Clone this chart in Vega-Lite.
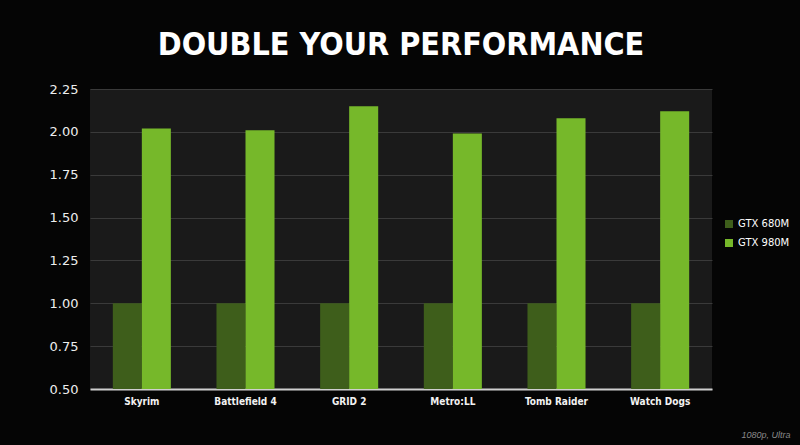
{
  "$schema": "https://vega.github.io/schema/vega-lite/v6.json",
  "description": "GTX 680M vs GTX 980M relative performance",
  "autosize": "none",
  "width": 622,
  "height": 300,
  "padding": {"left": 90, "top": 89, "right": 88, "bottom": 56},
  "background": "#050505",
  "view": {"fill": "#1a1a1a", "stroke": null},
  "title": {
    "text": "DOUBLE YOUR PERFORMANCE",
    "font": "DejaVu Sans Condensed, Liberation Sans Narrow, Liberation Sans",
    "fontSize": 32,
    "fontWeight": "bold",
    "color": "white",
    "anchor": "middle",
    "offset": 21
  },
  "data": {
    "values": [
      {"game": "Skyrim", "gpu": "GTX 680M", "perf": 1.0},
      {"game": "Skyrim", "gpu": "GTX 980M", "perf": 2.02},
      {"game": "Battlefield 4", "gpu": "GTX 680M", "perf": 1.0},
      {"game": "Battlefield 4", "gpu": "GTX 980M", "perf": 2.01},
      {"game": "GRID 2", "gpu": "GTX 680M", "perf": 1.0},
      {"game": "GRID 2", "gpu": "GTX 980M", "perf": 2.15},
      {"game": "Metro:LL", "gpu": "GTX 680M", "perf": 1.0},
      {"game": "Metro:LL", "gpu": "GTX 980M", "perf": 1.99},
      {"game": "Tomb Raider", "gpu": "GTX 680M", "perf": 1.0},
      {"game": "Tomb Raider", "gpu": "GTX 980M", "perf": 2.08},
      {"game": "Watch Dogs", "gpu": "GTX 680M", "perf": 1.0},
      {"game": "Watch Dogs", "gpu": "GTX 980M", "perf": 2.12}
    ]
  },
  "mark": {"type": "bar", "clip": true},
  "encoding": {
    "x": {
      "field": "game",
      "type": "nominal",
      "sort": null,
      "scale": {"paddingInner": 0.44, "paddingOuter": 0.22},
      "axis": {
        "title": "1080p, Ultra",
        "titleFont": "Liberation Sans",
        "titleFontStyle": "italic",
        "titleFontWeight": "normal",
        "titleFontSize": 9,
        "titleColor": "#8a8a8a",
        "titleAnchor": "end",
        "titleAlign": "right",
        "titleBaseline": "alphabetic",
        "titleX": 700,
        "titleY": 48,
        "labelAngle": 0,
        "labelFont": "DejaVu Sans Condensed, Liberation Sans Narrow, Liberation Sans",
        "labelFontSize": 10,
        "labelFontWeight": "bold",
        "labelColor": "#f2f2f2",
        "labelPadding": 7,
        "ticks": false,
        "domainColor": "#cfcfcf",
        "domainWidth": 2
      }
    },
    "xOffset": {"field": "gpu", "type": "nominal"},
    "y": {
      "field": "perf",
      "type": "quantitative",
      "scale": {"domain": [0.5, 2.25], "zero": false, "nice": false},
      "axis": {
        "title": null,
        "values": [0.5, 0.75, 1.0, 1.25, 1.5, 1.75, 2.0, 2.25],
        "format": ".2f",
        "labelFont": "DejaVu Sans",
        "labelFontSize": 13,
        "labelColor": "#eeeeee",
        "labelPadding": 12,
        "ticks": false,
        "domain": false,
        "gridColor": "#3a3a3a",
        "gridWidth": 1
      }
    },
    "color": {
      "field": "gpu",
      "type": "nominal",
      "scale": {"domain": ["GTX 680M", "GTX 980M"], "range": ["#3e5e1b", "#76b82a"]},
      "legend": {
        "title": null,
        "orient": "none",
        "legendX": 634,
        "legendY": 130,
        "symbolType": "square",
        "symbolSize": 64,
        "symbolStrokeWidth": 0,
        "labelColor": "white",
        "labelFont": "DejaVu Sans",
        "labelFontSize": 10,
        "rowPadding": 9
      }
    }
  }
}
